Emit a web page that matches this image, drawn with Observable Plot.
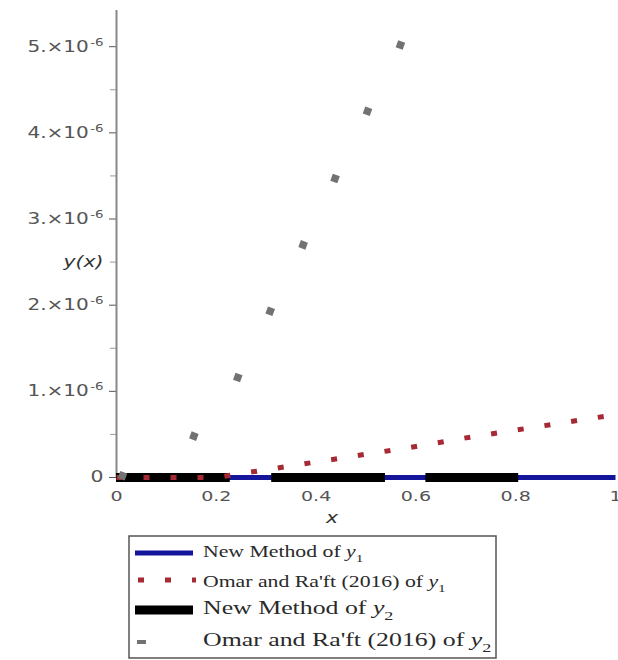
<!DOCTYPE html>
<html><head><meta charset="utf-8">
<script src="https://cdn.jsdelivr.net/npm/d3@7"></script>
<script src="https://cdn.jsdelivr.net/npm/@observablehq/plot@0.6"></script>
<style>
body{margin:0;background:#fff;}
#chart svg,#legend svg{display:block}
</style></head><body><div id="chart"></div><div id="legend"></div>
<script>
// ---- data ----
const xTicks = [0, 0.2, 0.4, 0.6, 0.8, 1];
const xTickLabels = ["0", "0.2", "0.4", "0.6", "0.8", "1"];
const yTicks = [0, 1e-6, 2e-6, 3e-6, 4e-6, 5e-6];
const yTickLabels = ["0", "1.×10⁻⁶", "2.×10⁻⁶", "3.×10⁻⁶", "4.×10⁻⁶", "5.×10⁻⁶"];
const yMinorTicks = [0.5e-6, 1.5e-6, 2.5e-6, 3.5e-6, 4.5e-6];

const seriesNames = ["New Method of y1", "Omar and Ra'ft (2016) of y1", "New Method of y2", "Omar and Ra'ft (2016) of y2"];

// New Method of y1 (flat at zero)
const newY1X = [0, 1];
const newY1 = [0, 0];
// New Method of y2 (flat at zero, long dashes)
const newY2Start = [0, 0.311, 0.62];
const newY2End = [0.228, 0.539, 0.806];
const newY2 = [0, 0, 0];
// Omar and Ra'ft (2016) of y1
const omarY1X = [0, 0.2, 0.3, 0.4, 0.5, 0.6, 0.7, 0.8, 0.9, 1.0];
const omarY1 = [0, 0, 0.09e-6, 0.18e-6, 0.27e-6, 0.36e-6, 0.46e-6, 0.55e-6, 0.64e-6, 0.73e-6];
// Omar and Ra'ft (2016) of y2
const omarY2X = [0.012, 0.155, 0.243, 0.308, 0.374, 0.438, 0.503, 0.569];
const omarY2 = [0.02e-6, 0.48e-6, 1.16e-6, 1.93e-6, 2.70e-6, 3.47e-6, 4.25e-6, 5.02e-6];

const yAxisLabel = [{label: "y(x)", x: 0, y: 2.5e-6}];
const xAxisLabel = [{label: "x", x: 0.432, y: -0.476e-6}];

// ---- build ----
const blue = "#15159c", red = "#a52a35", grey = "#727272";
const plot = Plot.plot({
  width: 618, height: 532,
  marginLeft: 116, marginRight: 3, marginTop: 10, marginBottom: 55,
  x: {domain: [0, 1]},
  y: {domain: [0, 5.42e-6]},
  style: {fontFamily: "DejaVu Sans", background: "white", overflow: "hidden"},
  marks: [
    Plot.axisX({ticks: xTicks, tickFormat: d => xTickLabels[xTicks.indexOf(d)], tickSize: 0, tickPadding: 14, fontSize: 14, color: "#555", label: null}),
    Plot.axisY({ticks: yTicks, tickFormat: d => yTickLabels[yTicks.indexOf(d)], tickSize: 7, tickPadding: 6, fontSize: 15, color: "#555", label: null}),
    Plot.axisY({ticks: yMinorTicks, tickFormat: () => "", tickSize: 6, color: "#999", label: null}),
    Plot.ruleX([0], {stroke: "#888", strokeWidth: 2}),
    Plot.line(newY1X.map((x, i) => ({x, y: newY1[i]})), {x: "x", y: "y", stroke: blue, strokeWidth: 5, strokeLinecap: "butt"}),
    Plot.ruleY(newY2Start.map((x1, i) => ({x1, x2: newY2End[i], y: newY2[i]})), {x1: "x1", x2: "x2", y: "y", stroke: "#000", strokeWidth: 9}),
    Plot.line(omarY1X.map((x, i) => ({x, y: omarY1[i]})), {x: "x", y: "y", stroke: red, strokeWidth: 5, strokeDasharray: "6 21", strokeLinecap: "butt"}),
    Plot.dot(omarY2X.map((x, i) => ({x, y: omarY2[i]})), {x: "x", y: "y", symbol: "square", r: 4.2, rotate: 20, fill: grey}),
    Plot.text(yAxisLabel, {x: "x", y: "y", text: "label", dx: -13, textAnchor: "end", fontStyle: "italic", fontSize: 15, fill: "#333"}),
    Plot.text(xAxisLabel, {x: "x", y: "y", text: "label", fontStyle: "italic", fontSize: 15, fill: "#333"})
  ]
});
document.getElementById("chart").append(plot);

// render "×10⁻⁶" with a real raised exponent, like the reference
plot.querySelectorAll("text").forEach(t => {
  const s = t.textContent;
  if (s.includes("⁻⁶")) {
    t.textContent = s.replace("⁻⁶", "");
    const sup = document.createElementNS("http://www.w3.org/2000/svg", "tspan");
    sup.setAttribute("font-size", "10");
    sup.setAttribute("dy", "-6");
    sup.setAttribute("dx", "1");
    sup.textContent = "-6";
    t.appendChild(sup);
  }
});
// stretch all texts horizontally like the reference
plot.querySelectorAll("text").forEach(t => {
  const len = t.getComputedTextLength();
  if (len > 0) {
    t.setAttribute("textLength", len * 1.36);
    t.setAttribute("lengthAdjust", "spacingAndGlyphs");
  }
});

// ---- legend ----
const lg = d3.create("svg").attr("width", 618).attr("height", 128);
lg.append("rect").attr("x", 129).attr("y", 4).attr("width", 367).attr("height", 122)
  .attr("fill", "white").attr("stroke", "#555").attr("stroke-width", 1.5);
const rows = [
  {stroke: blue, w: 5, y: 21, base: 25, fs: 16, x1: 135, x2: 193},
  {stroke: red, w: 5, y: 48, base: 55, fs: 16, x1: 138, x2: 196, dash: "6 21"},
  {stroke: "#000", w: 9, y: 78, base: 82, fs: 19, x1: 135, x2: 193},
  {stroke: grey, w: 4, y: 110, base: 114, fs: 19, x1: 137, x2: 146}
];
rows.forEach((r, i) => {
  const ln = lg.append("line").attr("x1", r.x1).attr("x2", r.x2).attr("y1", r.y).attr("y2", r.y)
    .attr("stroke", r.stroke).attr("stroke-width", r.w);
  if (r.dash) ln.attr("stroke-dasharray", r.dash);
  const name = seriesNames[i];
  const main = name.slice(0, -2), v = name.slice(-2, -1), sub = name.slice(-1);
  const t = lg.append("text").attr("transform", `translate(203,${r.base}) scale(1.36,1)`)
    .attr("font-family", "Liberation Serif").attr("font-size", r.fs).attr("fill", "#2a2a2a");
  t.append("tspan").text(main);
  t.append("tspan").attr("font-style", "italic").text(v);
  t.append("tspan").attr("font-size", r.fs * 0.7).attr("dy", r.fs * 0.3).text(sub);
});
document.getElementById("legend").append(lg.node());
</script></body></html>
